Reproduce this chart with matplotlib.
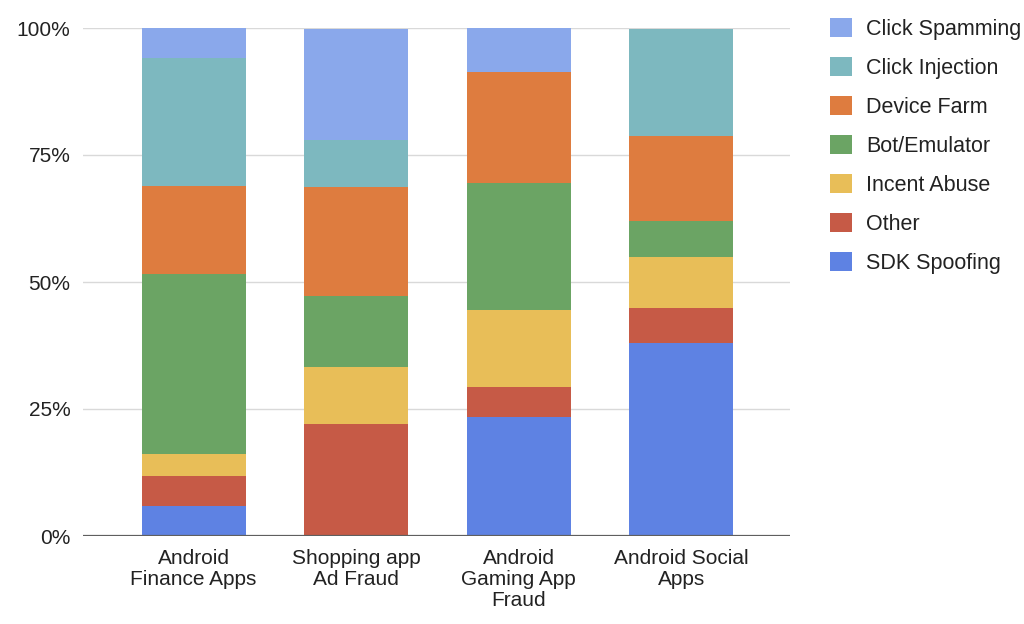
import numpy as np
import matplotlib.pyplot as plt
from matplotlib.ticker import FuncFormatter

plt.rcParams['font.family'] = ['Liberation Sans', 'DejaVu Sans']

categories = ["Android\nFinance Apps", "Shopping app\nAd Fraud",
              "Android\nGaming App\nFraud", "Android Social\nApps"]

# stacked from the bottom up (percent of each bar)
sdk_spoofing   = [6.0, 0.0, 23.5, 37.9]
other          = [5.9, 22.0, 5.9, 6.9]
incent_abuse   = [4.2, 11.2, 15.1, 10.2]
bot_emulator   = [35.5, 14.1, 24.9, 7.0]
device_farm    = [17.2, 21.4, 21.9, 16.8]
click_inject   = [25.3, 9.2, 0.0, 21.1]
click_spamming = [6.0, 22.0, 8.7, 0.0]

series = [
    ("SDK Spoofing", sdk_spoofing, "#5e82e3"),
    ("Other", other, "#c65a46"),
    ("Incent Abuse", incent_abuse, "#e8be58"),
    ("Bot/Emulator", bot_emulator, "#6ba464"),
    ("Device Farm", device_farm, "#de7c3f"),
    ("Click Injection", click_inject, "#7db8bf"),
    ("Click Spamming", click_spamming, "#8aa8eb"),
]

fig = plt.figure(figsize=(10.24, 6.24), dpi=100)
ax = fig.add_axes([83/1024, 1-536/624, (790-83)/1024, (536-28)/624])

x = np.arange(len(categories))
bottom = np.zeros(len(categories))
handles = []
for name, vals, col in series:
    vals = np.array(vals)
    b = ax.bar(x, vals, 0.64, bottom=bottom, color=col, label=name, zorder=2)
    handles.append(b)
    bottom += vals

ax.set_xlim(-0.68, 3.67)
ax.set_ylim(0, 100)
ax.set_yticks([0, 25, 50, 75, 100])
ax.yaxis.set_major_formatter(FuncFormatter(lambda v, p: f"{int(v)}%"))
ax.set_xticks(x)
ax.set_xticklabels(categories, linespacing=1.15)
ax.tick_params(axis='both', length=0, labelsize=15, colors="#222222")
ax.tick_params(axis='y', pad=9)
ax.tick_params(axis='x', pad=9)
ax.grid(axis='y', color="#d9d9d9", linewidth=1, zorder=0)
ax.set_axisbelow(True)
for s in ax.spines.values():
    s.set_visible(False)
ax.axhline(0, color="#5f5f5f", linewidth=1.6, zorder=3)

leg = fig.legend(handles[::-1], [s[0] for s in series][::-1], loc='upper left',
                 bbox_to_anchor=(830/1024, 1-18/624), frameon=False, fontsize=15.5,
                 handlelength=1.0, handleheight=1.0, handletextpad=0.68,
                 labelspacing=0.79, borderpad=0, borderaxespad=0)
for t in leg.get_texts():
    t.set_color("#222222")

plt.savefig("out.png")
